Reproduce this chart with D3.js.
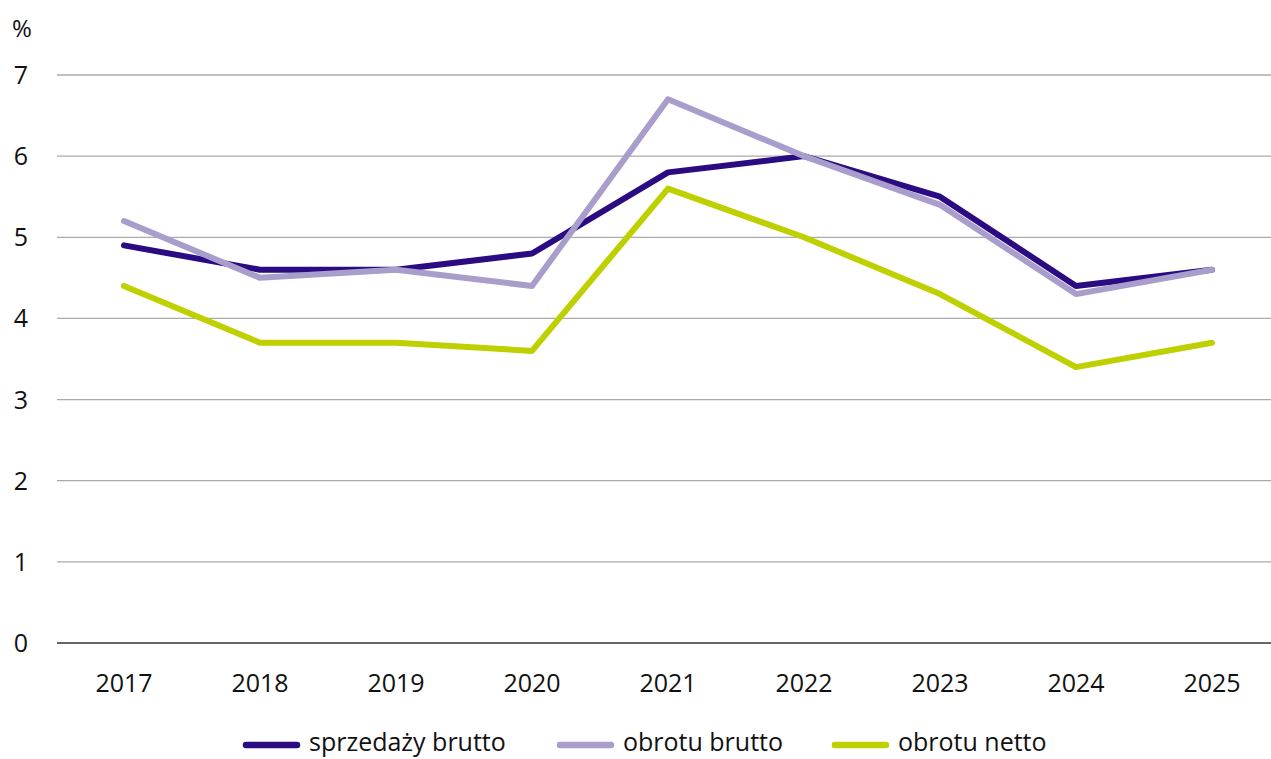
<!DOCTYPE html>
<html><head><meta charset="utf-8">
<script src="https://cdn.jsdelivr.net/npm/d3@7"></script>
<style>body{margin:0;background:#fff}svg{display:block}text{font-family:"Open Sans",sans-serif;fill:#111}</style>
</head><body><svg id="c" width="1271" height="759"></svg>
<script>
const years = ["2017","2018","2019","2020","2021","2022","2023","2024","2025"];
const sprzedazyBrutto = [4.9,4.6,4.6,4.8,5.8,6.0,5.5,4.4,4.6];
const obrotuBrutto = [5.2,4.5,4.6,4.4,6.7,6.0,5.4,4.3,4.6];
const obrotuNetto = [4.4,3.7,3.7,3.6,5.6,5.0,4.3,3.4,3.7];
const yTicks = [0,1,2,3,4,5,6,7];
const seriesNames = ["sprzedaży brutto","obrotu brutto","obrotu netto"];
const colors = ["#2a0b82","#a99dcc","#bfd000"];

const svg = d3.select("#c");
const x = d3.scalePoint().domain(years).range([124,1212]);
const y = d3.scaleLinear().domain([0,7]).range([643,75]);

svg.append("g").selectAll("line").data(yTicks.filter(d=>d>0)).join("line")
  .attr("x1",57).attr("x2",1271).attr("y1",d=>y(d)).attr("y2",d=>y(d))
  .attr("stroke","#aaaaaa").attr("stroke-width",1.3);
svg.append("line").attr("x1",57).attr("x2",1271).attr("y1",y(0)).attr("y2",y(0))
  .attr("stroke","#333").attr("stroke-width",1.5);

svg.append("g").selectAll("text").data(yTicks).join("text")
  .attr("x",21).attr("y",d=>y(d)).attr("dy","0.36em").attr("text-anchor","middle")
  .attr("font-size",25).text(d=>d);
svg.append("text").attr("x",22).attr("y",28).attr("dy","0.36em").attr("text-anchor","middle").attr("font-size",24).text("%");

svg.append("g").selectAll("text").data(years).join("text")
  .attr("x",d=>x(d)).attr("y",683).attr("dy","0.36em").attr("text-anchor","middle")
  .attr("font-size",25).text(d=>d);

const line = d3.line().x((d,i)=>x(years[i])).y(d=>y(d));
[sprzedazyBrutto,obrotuBrutto,obrotuNetto].forEach((s,i)=>{
  svg.append("path").attr("d",line(s)).attr("fill","none").attr("stroke",colors[i])
    .attr("stroke-width",6).attr("stroke-linejoin","round").attr("stroke-linecap","round");
});

const legX = [243,557,832];
seriesNames.forEach((n,i)=>{
  svg.append("line").attr("x1",legX[i]+3).attr("x2",legX[i]+54).attr("y1",745).attr("y2",745)
    .attr("stroke",colors[i]).attr("stroke-width",6.5).attr("stroke-linecap","round");
  svg.append("text").attr("x",legX[i]+66).attr("y",742).attr("dy","0.36em").attr("font-size",25).text(n);
});
</script></body></html>
